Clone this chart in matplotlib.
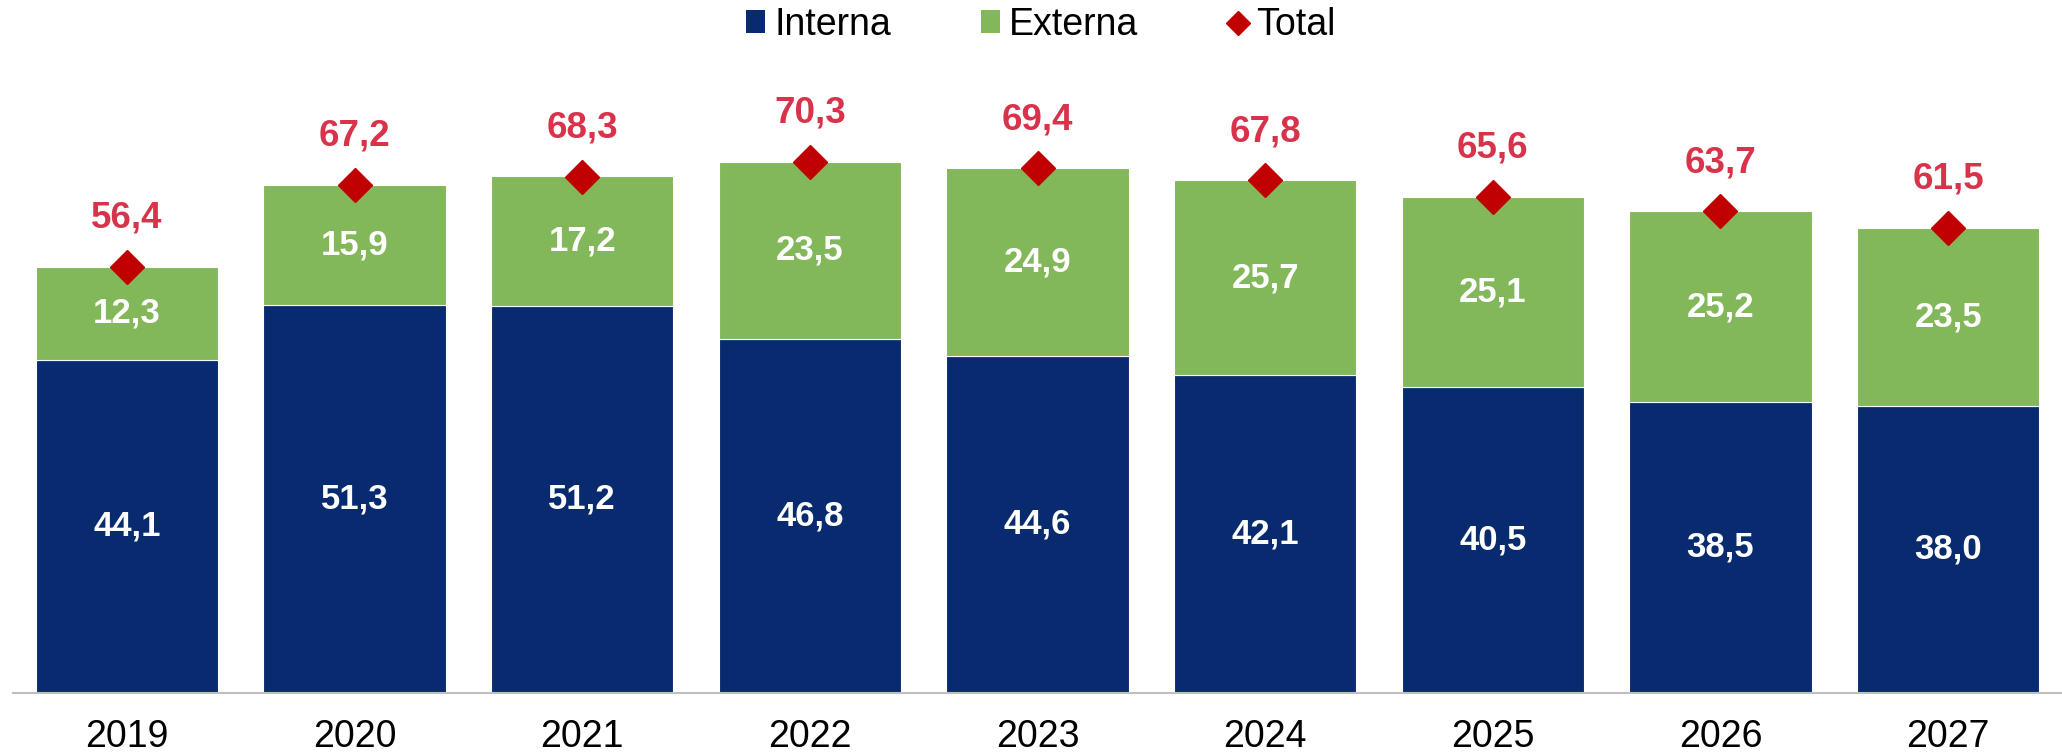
import matplotlib
matplotlib.use("Agg")
import matplotlib.pyplot as plt
from matplotlib.lines import Line2D
from matplotlib.patches import Patch

years = ["2019", "2020", "2021", "2022", "2023", "2024", "2025", "2026", "2027"]
interna = [44.1, 51.3, 51.2, 46.8, 44.6, 42.1, 40.5, 38.5, 38.0]
externa = [12.3, 15.9, 17.2, 23.5, 24.9, 25.7, 25.1, 25.2, 23.5]
total = [56.4, 67.2, 68.3, 70.3, 69.4, 67.8, 65.6, 63.7, 61.5]

navy = "#072B6E"
green = "#82B85A"
diamond = "#C00000"
red_lbl = "#D8334A"

plt.rcParams['font.family'] = ['Liberation Sans', 'DejaVu Sans']

fig = plt.figure(figsize=(20.62, 7.56), dpi=100)
ax = fig.add_axes([13/2062, 1 - 693/756, 1 - 13/2062, 642.6/756])

x = list(range(len(years)))
ax.bar(x, interna, width=0.8, color=navy, edgecolor="white", linewidth=0.8)
ax.bar(x, externa, bottom=interna, width=0.8, color=green, edgecolor="white", linewidth=0.8)
ax.plot(x, total, linestyle="none", marker="D", markersize=17.5, color=diamond, zorder=5)

for i in x:
    ax.text(i, interna[i] / 2, f"{interna[i]:.1f}".replace(".", ","), ha="center", va="center",
            color="white", fontsize=25, fontweight="bold")
    ax.text(i, interna[i] + externa[i] / 2, f"{externa[i]:.1f}".replace(".", ","), ha="center",
            va="center", color="white", fontsize=25, fontweight="bold")
    ax.annotate(f"{total[i]:.1f}".replace(".", ","), (i, total[i]), xytext=(0, 35),
                textcoords="offset points", ha="center", va="center", color=red_lbl,
                fontsize=26.5, fontweight="bold")

ax.set_xlim(-0.5, 8.5)
ax.set_ylim(0, 85)
ax.set_xticks(x)
ax.set_xticklabels(years, fontsize=27)
ax.tick_params(axis="x", length=0, pad=19)
ax.set_yticks([])
for s in ["top", "right", "left"]:
    ax.spines[s].set_visible(False)
ax.spines["bottom"].set_color("#BFBFBF")
ax.spines["bottom"].set_linewidth(1.5)

handles = [Patch(facecolor=navy, label="Interna"),
           Patch(facecolor=green, label="Externa"),
           Line2D([], [], linestyle="none", marker="D", markersize=12, color=diamond, label="Total")]
fig.legend(handles=handles, loc="center", bbox_to_anchor=(1041/2062, 1 - 25/756), ncol=3,
           frameon=False, fontsize=27, handlelength=0.5, handleheight=0.55, handletextpad=0.25,
           columnspacing=2.4)

fig.savefig("out.png", dpi=100)
